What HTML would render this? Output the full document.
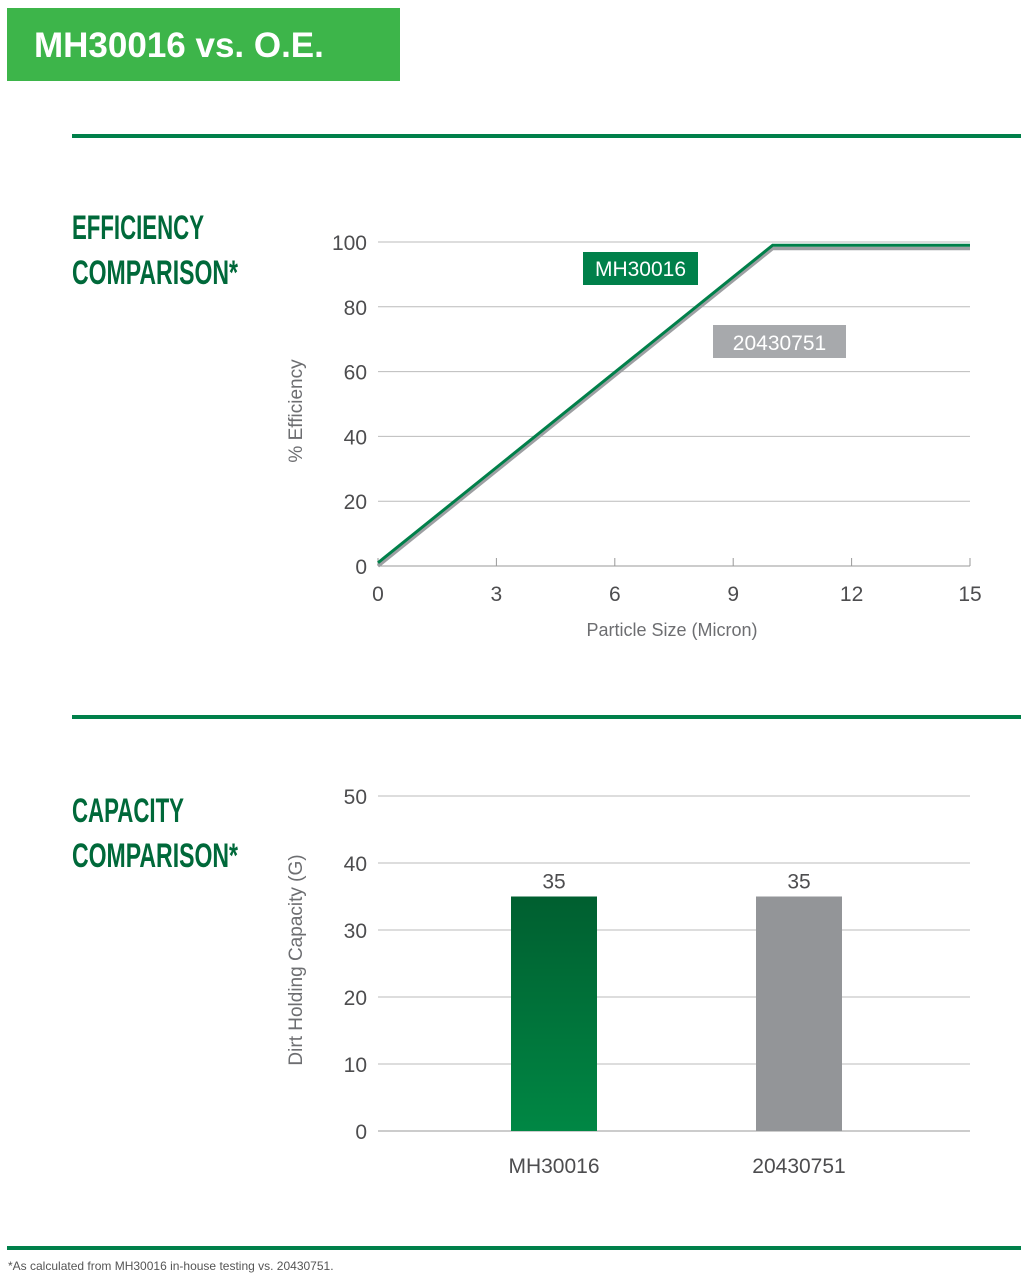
<!DOCTYPE html>
<html><head><meta charset="utf-8">
<style>
html,body{margin:0;padding:0;background:#fff;}
body{width:1021px;height:1280px;position:relative;overflow:hidden;font-family:"Liberation Sans",sans-serif;}
.narrow{font-family:"Liberation Sans Narrow","Liberation Sans",sans-serif;}
</style></head>
<body>
<svg id="page" width="1021" height="1280" xmlns="http://www.w3.org/2000/svg">
  <rect x="7" y="8" width="393" height="73" fill="#3db54a"/>
  <text x="34" y="57" fill="#fff" font-family="Liberation Sans, sans-serif" font-weight="bold" font-size="35">MH30016 vs. O.E.</text>
  <rect x="72" y="134" width="949" height="4" fill="#00804a"/>
  <rect x="72" y="715" width="949" height="4" fill="#00804a"/>
  <rect x="7" y="1246" width="1014" height="4" fill="#00804a"/>
  <g class="narrow" fill="#00693a" font-size="34" font-weight="bold">
    <text x="72" y="239" textLength="132" lengthAdjust="spacingAndGlyphs">EFFICIENCY</text>
    <text x="72" y="284" textLength="166" lengthAdjust="spacingAndGlyphs">COMPARISON*</text>
  </g>
  <g class="narrow" fill="#00693a" font-size="34" font-weight="bold">
    <text x="72" y="822" textLength="112" lengthAdjust="spacingAndGlyphs">CAPACITY</text>
    <text x="72" y="867" textLength="166" lengthAdjust="spacingAndGlyphs">COMPARISON*</text>
  </g>
  <text x="8" y="1270" fill="#555" font-size="12">*As calculated from MH30016 in-house testing vs. 20430751.</text>
  <g id="eff"></g>
  <g id="cap"></g>
</svg>
<script>
// Efficiency chart data
const effXTicks = [0, 3, 6, 9, 12, 15];
const effYTicks = [0, 20, 40, 60, 80, 100];
const mhX = [0, 10, 15];
const mhY = [1, 99, 99];
const oeX = [0, 10, 15];
const oeY = [0, 98, 98];
// Capacity chart data
const capCategories = ["MH30016", "20430751"];
const capValues = [35, 35];
const capYTicks = [0, 10, 20, 30, 40, 50];

const NS = "http://www.w3.org/2000/svg";
function mk(tag, attrs, parent, txt) {
  const e = document.createElementNS(NS, tag);
  for (const k in attrs) e.setAttribute(k, attrs[k]);
  if (txt !== undefined) e.textContent = txt;
  parent.appendChild(e);
  return e;
}
const FN = "Liberation Sans Narrow, Liberation Sans, sans-serif";

// ---- Efficiency
const eff = document.getElementById('eff');
const ex = v => 378 + (v - 0) / 15 * (970 - 378);
const ey = v => 566 - v / 100 * (566 - 242);
effYTicks.forEach(t => {
  const l = mk('line', {x1: ex(0), x2: ex(15), y1: ey(t), y2: ey(t), stroke: t === 0 ? '#999' : '#bbb', 'stroke-width': 1}, eff);
  
  
  const tx = mk('text', {x: 367, y: ey(t) + 8, 'text-anchor': 'end', fill: '#4d4d4f', 'font-size': 21, 'font-family': FN}, eff, t);
  
  
});
effXTicks.forEach(t => {
  const l = mk('line', {x1: ex(t), x2: ex(t), y1: ey(0), y2: ey(0) - 8, stroke: '#999', 'stroke-width': 1}, eff);
  
  
  const tx = mk('text', {x: ex(t), y: 601, 'text-anchor': 'middle', fill: '#4d4d4f', 'font-size': 21, 'font-family': FN}, eff, t);
  
  
});
const oe = mk('polyline', {points: oeX.map((x, i) => ex(x) + ',' + ey(oeY[i])).join(' '), fill: 'none', stroke: '#9d9fa2', 'stroke-width': 3.5}, eff);


const mh = mk('polyline', {points: mhX.map((x, i) => ex(x) + ',' + ey(mhY[i])).join(' '), fill: 'none', stroke: '#00804a', 'stroke-width': 3}, eff);


let r = mk('rect', {x: 583, y: 252, width: 115, height: 33, fill: '#00804a'}, eff);


let t = mk('text', {x: 640.5, y: 276, 'text-anchor': 'middle', fill: '#fff', 'font-size': 21, 'font-family': FN}, eff, 'MH30016');


r = mk('rect', {x: 713, y: 325, width: 133, height: 33, fill: '#a7a9ac'}, eff);


t = mk('text', {x: 779.5, y: 350, 'text-anchor': 'middle', fill: '#fff', 'font-size': 21, 'font-family': FN}, eff, '20430751');


t = mk('text', {x: 0, y: 0, transform: 'translate(302,411) rotate(-90)', 'text-anchor': 'middle', fill: '#6d6e71', 'font-size': 19}, eff, '% Efficiency');


t = mk('text', {x: 672, y: 636, 'text-anchor': 'middle', fill: '#6d6e71', 'font-size': 18}, eff, 'Particle Size (Micron)');



// ---- Capacity
const cap = document.getElementById('cap');
const cy = v => 1131 - v / 50 * (1131 - 796);
const barCenters = i => 554 + i * 245;
const defs = mk('defs', {}, cap);
const g = mk('linearGradient', {id: 'gbar', x1: 0, y1: 0, x2: 0, y2: 1}, defs);
mk('stop', {offset: '0', 'stop-color': '#005f30'}, g);
mk('stop', {offset: '1', 'stop-color': '#008744'}, g);
capYTicks.forEach(v => {
  const l = mk('line', {x1: 378, x2: 970, y1: cy(v), y2: cy(v), stroke: v === 0 ? '#999' : '#bbb', 'stroke-width': 1}, cap);
  
  
  const tx = mk('text', {x: 367, y: cy(v) + 8, 'text-anchor': 'end', fill: '#4d4d4f', 'font-size': 21, 'font-family': FN}, cap, v);
  
  
});
capCategories.forEach((c, i) => {
  const b = mk('rect', {x: barCenters(i) - 43, y: cy(capValues[i]), width: 86, height: cy(0) - cy(capValues[i]), fill: i === 0 ? 'url(#gbar)' : '#939598'}, cap);
  
  
  const v = mk('text', {x: barCenters(i), y: cy(capValues[i]) - 8, 'text-anchor': 'middle', fill: '#4d4d4f', 'font-size': 21, 'font-family': FN}, cap, capValues[i]);
  
  
  const lb = mk('text', {x: barCenters(i), y: 1173, 'text-anchor': 'middle', fill: '#4d4d4f', 'font-size': 21, 'font-family': FN}, cap, c);
  
  
});
t = mk('text', {x: 0, y: 0, transform: 'translate(302,960) rotate(-90)', 'text-anchor': 'middle', fill: '#6d6e71', 'font-size': 19}, cap, 'Dirt Holding Capacity (G)');


</script>
</body></html>
